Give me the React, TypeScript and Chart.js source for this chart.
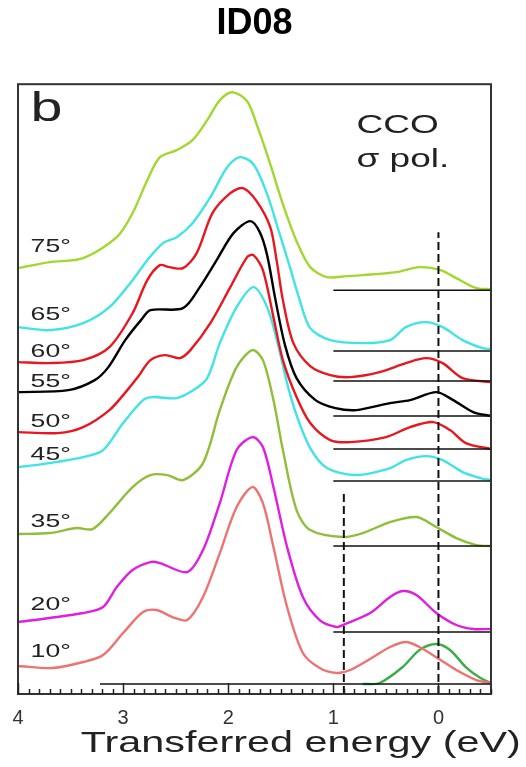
import React, { useEffect, useRef } from "react";
import { Chart, registerables } from "chart.js";

Chart.register(...registerables);

// ---------- text ----------
const chartTitle = "ID08";
const xAxisTitle = "Transferred energy (eV)";
const panelLetter = "b";
const sampleLabel = "CCO";
const polLabel = "σ pol.";
const xTickValues = [4, 3, 2, 1, 0];

// ---------- spectra (energy in eV, intensity offset in arbitrary units) ----------
const e75 = [4.0, 3.7, 3.38, 3.06, 2.91, 2.77, 2.65, 2.49, 2.34, 2.2, 2.08, 1.96, 1.82, 1.72, 1.6, 1.48, 1.35, 1.22, 1.06, 0.87, 0.72, 0.4, 0.18, -0.02, -0.17, -0.36, -0.5];
const i75 = [426, 432, 436, 457, 481, 514, 537, 544, 554, 574, 594, 602, 593, 567, 530, 490, 453, 427, 417, 418, 419, 422, 427, 424, 416, 406, 405];

const e65 = [4.0, 3.7, 3.38, 3.13, 2.91, 2.77, 2.62, 2.49, 2.34, 2.17, 2.01, 1.89, 1.76, 1.63, 1.51, 1.41, 1.32, 1.22, 1.03, 0.72, 0.46, 0.31, 0.12, -0.04, -0.23, -0.42, -0.5];
const i65 = [367, 364, 371, 387, 414, 434, 451, 457, 471, 497, 527, 537, 530, 500, 460, 426, 394, 366, 354, 351, 354, 367, 372, 367, 354, 346, 345];

const e60 = [4.0, 3.7, 3.38, 3.13, 2.91, 2.77, 2.65, 2.56, 2.43, 2.3, 2.15, 1.98, 1.86, 1.73, 1.6, 1.54, 1.48, 1.38, 1.22, 1.03, 0.84, 0.56, 0.31, 0.12, -0.04, -0.23, -0.5];
const i60 = [332, 331, 334, 347, 381, 414, 429, 427, 426, 441, 481, 501, 506, 493, 467, 434, 394, 351, 328, 319, 317, 322, 331, 336, 331, 316, 312];

const e55 = [4.0, 3.52, 3.27, 3.14, 2.98, 2.83, 2.74, 2.43, 2.27, 2.11, 1.95, 1.79, 1.7, 1.63, 1.55, 1.46, 1.35, 1.17, 0.98, 0.78, 0.46, 0.27, 0.02, -0.14, -0.33, -0.5];
const i55 = [302, 304, 314, 327, 354, 374, 384, 386, 407, 434, 461, 473, 462, 439, 394, 349, 316, 294, 286, 284, 291, 294, 302, 294, 282, 278];

const e50 = [4.0, 3.62, 3.38, 3.13, 2.96, 2.86, 2.74, 2.6, 2.46, 2.36, 2.17, 1.98, 1.82, 1.76, 1.67, 1.57, 1.48, 1.35, 1.22, 1.03, 0.84, 0.5, 0.27, 0.05, -0.11, -0.26, -0.5];
const i50 = [262, 261, 267, 284, 304, 317, 334, 339, 336, 344, 371, 407, 437, 439, 424, 377, 334, 297, 271, 254, 252, 257, 267, 272, 264, 251, 245];

const e45 = [4.0, 3.7, 3.38, 3.19, 3.0, 2.81, 2.72, 2.49, 2.33, 2.2, 2.08, 1.92, 1.76, 1.63, 1.53, 1.44, 1.35, 1.22, 1.06, 0.78, 0.46, 0.31, 0.12, -0.04, -0.23, -0.4, -0.5];
const i45 = [227, 231, 237, 244, 271, 294, 297, 296, 304, 316, 351, 387, 407, 387, 351, 311, 279, 246, 226, 219, 226, 234, 238, 234, 222, 216, 214];

const e35 = [4.0, 3.7, 3.44, 3.29, 3.13, 2.91, 2.74, 2.58, 2.43, 2.24, 2.08, 1.92, 1.77, 1.67, 1.57, 1.48, 1.35, 1.22, 0.91, 0.72, 0.46, 0.21, 0.02, -0.17, -0.36, -0.5];
const i35 = [160, 161, 166, 165, 181, 207, 219, 219, 214, 231, 284, 327, 344, 334, 294, 244, 184, 164, 157, 161, 172, 177, 167, 156, 149, 148];

const e20 = [4.0, 3.7, 3.38, 3.19, 3.06, 2.91, 2.74, 2.65, 2.39, 2.24, 2.08, 1.92, 1.77, 1.67, 1.57, 1.44, 1.29, 1.13, 0.97, 0.91, 0.65, 0.46, 0.34, 0.21, 0.02, -0.17, -0.33, -0.5];
const i20 = [72, 76, 81, 87, 107, 124, 132, 131, 122, 144, 191, 244, 257, 247, 207, 147, 97, 74, 67, 69, 81, 97, 103, 99, 81, 69, 65, 65];

const e10 = [4.0, 3.67, 3.38, 3.19, 3.0, 2.81, 2.68, 2.53, 2.39, 2.24, 2.08, 1.92, 1.77, 1.67, 1.57, 1.44, 1.29, 1.13, 0.97, 0.84, 0.62, 0.46, 0.31, 0.18, -0.02, -0.17, -0.36, -0.5];
const i10 = [28, 26, 32, 39, 61, 82, 84, 77, 74, 97, 141, 187, 207, 191, 147, 87, 41, 26, 21, 24, 37, 47, 52, 47, 34, 24, 14, 11];

const eElastic = [0.72, 0.56, 0.34, 0.18, 0.02, -0.11, -0.26, -0.4, -0.5];
const iElastic = [10, 11, 27, 44, 50, 44, 27, 16, 11];

// ---------- labels / reference lines ----------
const angleLabels = ["75°", "65°", "60°", "55°", "50°", "45°", "35°", "20°", "10°"];
const baselines = [404, 343, 313, 278, 245, 213, 148, 62, 10];
const baselineStart = [1, 1, 1, 1, 1, 1, 1, 1, 3.22];
const baselineEnd = -0.5;
const dashedE = [0, 0.9];
const dashedTop = [462, 204];

// ---------- styling / placement (not data) ----------
const seriesColors = ["#a2d82e", "#40e4e4", "#e8161e", "#000000", "#e8161e", "#40e4e4", "#8fbf3a", "#e01ee0", "#ef7272"];
const elasticColor = "#3aae46";
const labelAnchorE = 3.88;
const labelAnchorY = [442, 374, 337, 307, 267, 234, 167, 84, 37];
const FONT = "'Liberation Sans', Arial, sans-serif";
const STRETCH = 1.4;

const energies = [e75, e65, e60, e55, e50, e45, e35, e20, e10];
const intensities = [i75, i65, i60, i55, i50, i45, i35, i20, i10];

function pts(xs: number[], ys: number[]) {
  return xs.map((x, k) => ({ x, y: ys[k] }));
}

function stretchedText(ctx: CanvasRenderingContext2D, text: string, x: number, y: number, font: string, sx: number, align: CanvasTextAlign) {
  ctx.save();
  ctx.font = font;
  ctx.fillStyle = "#222";
  ctx.textAlign = align;
  ctx.textBaseline = "alphabetic";
  ctx.translate(x, y);
  ctx.scale(sx, 1);
  ctx.fillText(text, 0, 0);
  ctx.restore();
}

const decorPlugin = {
  id: "decor",
  afterDatasetsDraw(chart: any) {
    const { ctx, chartArea } = chart;
    const xs = chart.scales.x;
    const ys = chart.scales.y;
    ctx.save();
    // frame
    ctx.strokeStyle = "#333";
    ctx.lineWidth = 2;
    ctx.strokeRect(chartArea.left, chartArea.top, chartArea.right - chartArea.left, chartArea.bottom - chartArea.top);
    // inward ticks
    ctx.lineWidth = 1.5;
    ctx.strokeStyle = "#222";
    for (let k = 0; k <= 45; k++) {
      const v = (k - 5) / 10;
      const px = Math.round(xs.getPixelForValue(v)) + 0.5;
      const len = k % 10 === 5 ? 11 : 5;
      ctx.beginPath();
      ctx.moveTo(px, chartArea.bottom);
      ctx.lineTo(px, chartArea.bottom - len);
      ctx.stroke();
    }
    ctx.restore();
    // angle labels
    angleLabels.forEach((t, k) => {
      stretchedText(ctx, t, xs.getPixelForValue(labelAnchorE), ys.getPixelForValue(labelAnchorY[k]), `19px ${FONT}`, STRETCH, "left");
    });
    stretchedText(ctx, panelLetter, xs.getPixelForValue(3.88), ys.getPixelForValue(573), `41px ${FONT}`, STRETCH, "left");
    stretchedText(ctx, sampleLabel, xs.getPixelForValue(0.78), ys.getPixelForValue(561), `25px ${FONT}`, 1.48, "left");
    stretchedText(ctx, polLabel, xs.getPixelForValue(0.78), ys.getPixelForValue(527), `25px ${FONT}`, 1.48, "left");
    // axis title
    stretchedText(ctx, xAxisTitle, xs.getPixelForValue(1.31), chartArea.bottom + 58, `30px ${FONT}`, 1.38, "center");
  },
};

export default function App() {
  const ref = useRef<HTMLCanvasElement | null>(null);
  useEffect(() => {
    if (!ref.current) return;
    const datasets: any[] = [];
    baselines.forEach((b, k) => {
      datasets.push({
        data: [{ x: baselineStart[k], y: b }, { x: baselineEnd, y: b }],
        borderColor: "#111",
        borderWidth: 1.5,
        pointRadius: 0,
        tension: 0,
      });
    });
    dashedE.forEach((e, k) => {
      datasets.push({
        data: [{ x: e, y: 0 }, { x: e, y: dashedTop[k] }],
        borderColor: "#111",
        borderWidth: 2,
        borderDash: [8, 4],
        pointRadius: 0,
        tension: 0,
      });
    });
    energies.forEach((es, k) => {
      datasets.push({
        label: angleLabels[k],
        data: pts(es, intensities[k]),
        borderColor: seriesColors[k],
        borderWidth: 2.4,
        pointRadius: 0,
        tension: 0.3,
      });
    });
    datasets.push({
      label: "elastic",
      data: pts(eElastic, iElastic),
      borderColor: elasticColor,
      borderWidth: 2.4,
      pointRadius: 0,
      tension: 0.3,
    });

    const chart = new Chart(ref.current, {
      type: "line",
      data: { datasets },
      options: {
        animation: false,
        responsive: false,
        devicePixelRatio: 1,
        layout: { padding: { left: 18, right: 35, top: 0, bottom: 0 } },
        plugins: {
          legend: { display: false },
          tooltip: { enabled: false },
          title: {
            display: true,
            text: chartTitle,
            color: "#000",
            font: { size: 36, weight: "bold", family: FONT },
            padding: { top: 2, bottom: 39 },
          },
        },
        scales: {
          x: {
            type: "linear",
            reverse: true,
            min: -0.5,
            max: 4,
            afterBuildTicks: (scale: any) => {
              scale.ticks = xTickValues.map((v) => ({ value: v }));
            },
            afterFit: (scale: any) => {
              scale.height = 73;
            },
            grid: { display: false, drawTicks: false },
            border: { display: false },
            ticks: {
              color: "#333",
              font: { size: 20, family: FONT },
              padding: 12,
              maxRotation: 0,
              autoSkip: false,
            },
          },
          y: { type: "linear", display: false, min: 0, max: 610 },
        },
      },
      plugins: [decorPlugin],
    } as any);
    return () => chart.destroy();
  }, []);
  return (
    <div style={{ position: "absolute", left: 0, top: 0, width: 526, height: 767, background: "#fff" }}>
      <canvas ref={ref} width={526} height={767} style={{ display: "block" }} />
    </div>
  );
}
